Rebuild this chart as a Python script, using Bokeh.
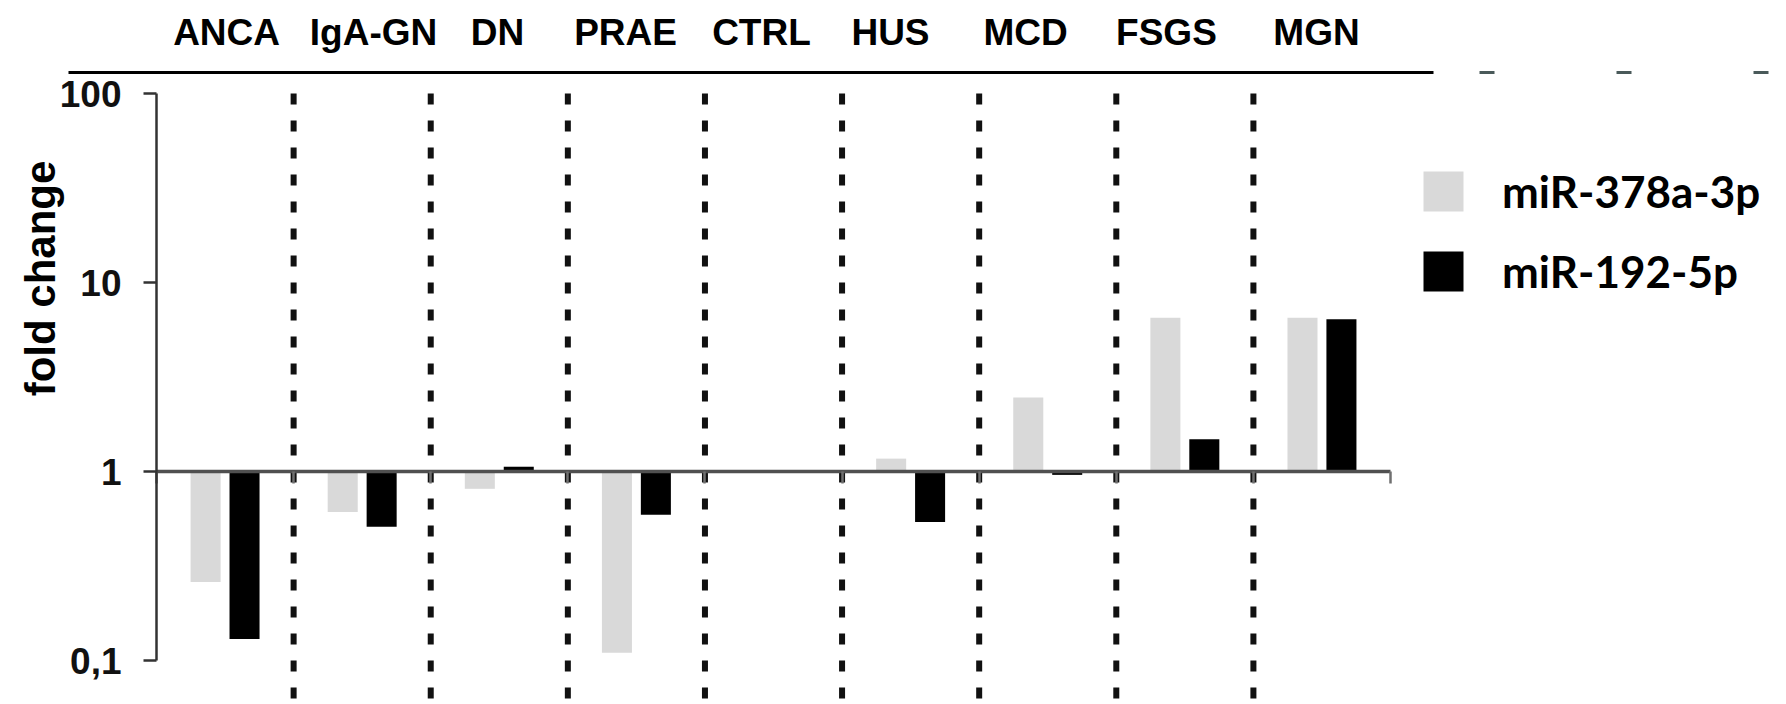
import math
from bokeh.plotting import figure
from bokeh.models import (Range1d, LinearAxis, FixedTicker, CustomJSTickFormatter,
                          Legend, LegendItem, Label)
from bokeh.embed import file_html
from bokeh.resources import INLINE

# ---- data -------------------------------------------------------------
categories = ["ANCA", "IgA-GN", "DN", "PRAE", "CTRL", "HUS", "MCD", "FSGS", "MGN"]
mir378 = [0.26, 0.61, 0.81, 0.11, 1.0, 1.17, 2.46, 6.5, 6.5]
mir192 = [0.13, 0.51, 1.06, 0.59, 1.0, 0.54, 0.96, 1.48, 6.4]
series_names = ["miR-378a-3p", "miR-192-5p"]
y_ticks = [0.1, 1, 10, 100]
y_title = "fold change"

# ---- styles -----------------------------------------------------------
LIGHT = "#d9d9d9"
DARK = "#000000"
BAR_W = 0.219
BAR_OFF = 0.142
W, H = 1786, 704
# small horizontal nudges of the header labels (category units)
HEADER_SHIFT = [0.011, 0.083, -0.013, -0.079, -0.088, -0.147, -0.162, -0.134, -0.04]

n = len(categories)
centers = [i + 0.5 for i in range(n)]
boundaries = list(range(1, n))

# frame covers the whole figure; all axes are pinned with fixed_location
X_START, X_END = -1.1378, n + 2.888
Y_LO, Y_HI = 0.05852, 310.5
TOP_LINE_Y = 129.2

p = figure(width=W, height=H, output_backend="svg", toolbar_location=None,
           x_range=Range1d(X_START, X_END), y_range=Range1d(Y_LO, Y_HI),
           y_axis_type="log", min_border=0, min_border_left=0, min_border_right=0,
           min_border_top=0, min_border_bottom=0)
p.outline_line_color = None
p.xgrid.visible = False
p.ygrid.visible = False
p.background_fill_color = "white"
p.border_fill_color = "white"

# dotted separators
p.segment(x0=boundaries, y0=100, x1=boundaries, y1=0.01, line_width=6,
          line_dash="11 16", line_color="#111111")

# faint dashed continuation of the header rule
p.segment(x0=[n + 0.649], y0=[TOP_LINE_Y], x1=[X_END], y1=[TOP_LINE_Y],
          line_width=3, line_dash="15 122", line_color="#4a5a5a")

# bars
r1 = p.vbar(x=[c - BAR_OFF for c in centers], bottom=1, top=mir378, width=BAR_W,
            fill_color=LIGHT, line_color=None)
r2 = p.vbar(x=[c + BAR_OFF for c in centers], bottom=1, top=mir192, width=BAR_W,
            fill_color=DARK, line_color=None)

# y axis (log) placed at x = 0
yax = p.yaxis[0]
yax.fixed_location = 0
yax.ticker = FixedTicker(ticks=y_ticks)
yax.formatter = CustomJSTickFormatter(code="return String(tick).replace('.', ',');")
yax.bounds = (0.1, 100)
yax.major_tick_out = 13
yax.major_tick_in = 0
yax.minor_tick_line_color = None
yax.axis_line_color = "#333333"
yax.axis_line_width = 2.5
yax.major_tick_line_color = "#333333"
yax.major_tick_line_width = 2.5
yax.major_label_text_font = "Liberation Sans"
yax.major_label_text_font_style = "bold"
yax.major_label_text_font_size = "37px"
yax.major_label_text_color = "#111111"
yax.major_label_standoff = 22

p.add_layout(Label(x=40, y=H - 278, x_units="screen", y_units="screen",
                   text=y_title, angle=math.pi / 2, text_align="center",
                   text_baseline="middle", text_font="Liberation Sans",
                   text_font_style="bold", text_font_size="42px",
                   text_color="#000000"))

# baseline x axis at y = 1
xb = p.xaxis[0]
xb.fixed_location = 1
xb.ticker = FixedTicker(ticks=list(range(0, n + 1)))
xb.formatter = CustomJSTickFormatter(code="return '';")
xb.bounds = (0, n)
xb.major_tick_out = 12
xb.major_tick_in = 0
xb.minor_tick_line_color = None
xb.axis_line_color = "#505050"
xb.axis_line_width = 3.5
xb.major_tick_line_color = "#707070"
xb.major_tick_line_width = 2.5

# category header axis on top
header_ticks = [c + s for c, s in zip(centers, HEADER_SHIFT)]
xa = LinearAxis(ticker=FixedTicker(ticks=header_ticks),
                formatter=CustomJSTickFormatter(args=dict(labels=categories),
                                                code="return labels[Math.floor(tick)];"))
xa.fixed_location = TOP_LINE_Y
xa.bounds = (-0.6418, n + 0.3136)
xa.major_tick_line_color = None
xa.minor_tick_line_color = None
xa.major_tick_out = 0
xa.major_tick_in = 0
xa.axis_line_color = "#000000"
xa.axis_line_width = 3
xa.major_label_text_font = "Liberation Sans"
xa.major_label_text_font_style = "bold"
xa.major_label_text_font_size = "37px"
xa.major_label_text_color = "#000000"
xa.major_label_standoff = 19
p.add_layout(xa, "above")

# legend
legend = Legend(items=[LegendItem(label=series_names[0], renderers=[r1]),
                       LegendItem(label=series_names[1], renderers=[r2])],
                location=(1418, 407))
legend.glyph_width = 50
legend.glyph_height = 50
legend.label_standoff = 34
legend.spacing = 28
legend.padding = 0
legend.margin = 0
legend.border_line_color = None
legend.background_fill_alpha = 0
legend.label_text_font = "Lato"
legend.label_text_font_style = "bold"
legend.label_text_font_size = "44px"
legend.label_text_color = "#000000"
p.add_layout(legend)

open("out.html", "w").write(file_html(p, INLINE))
